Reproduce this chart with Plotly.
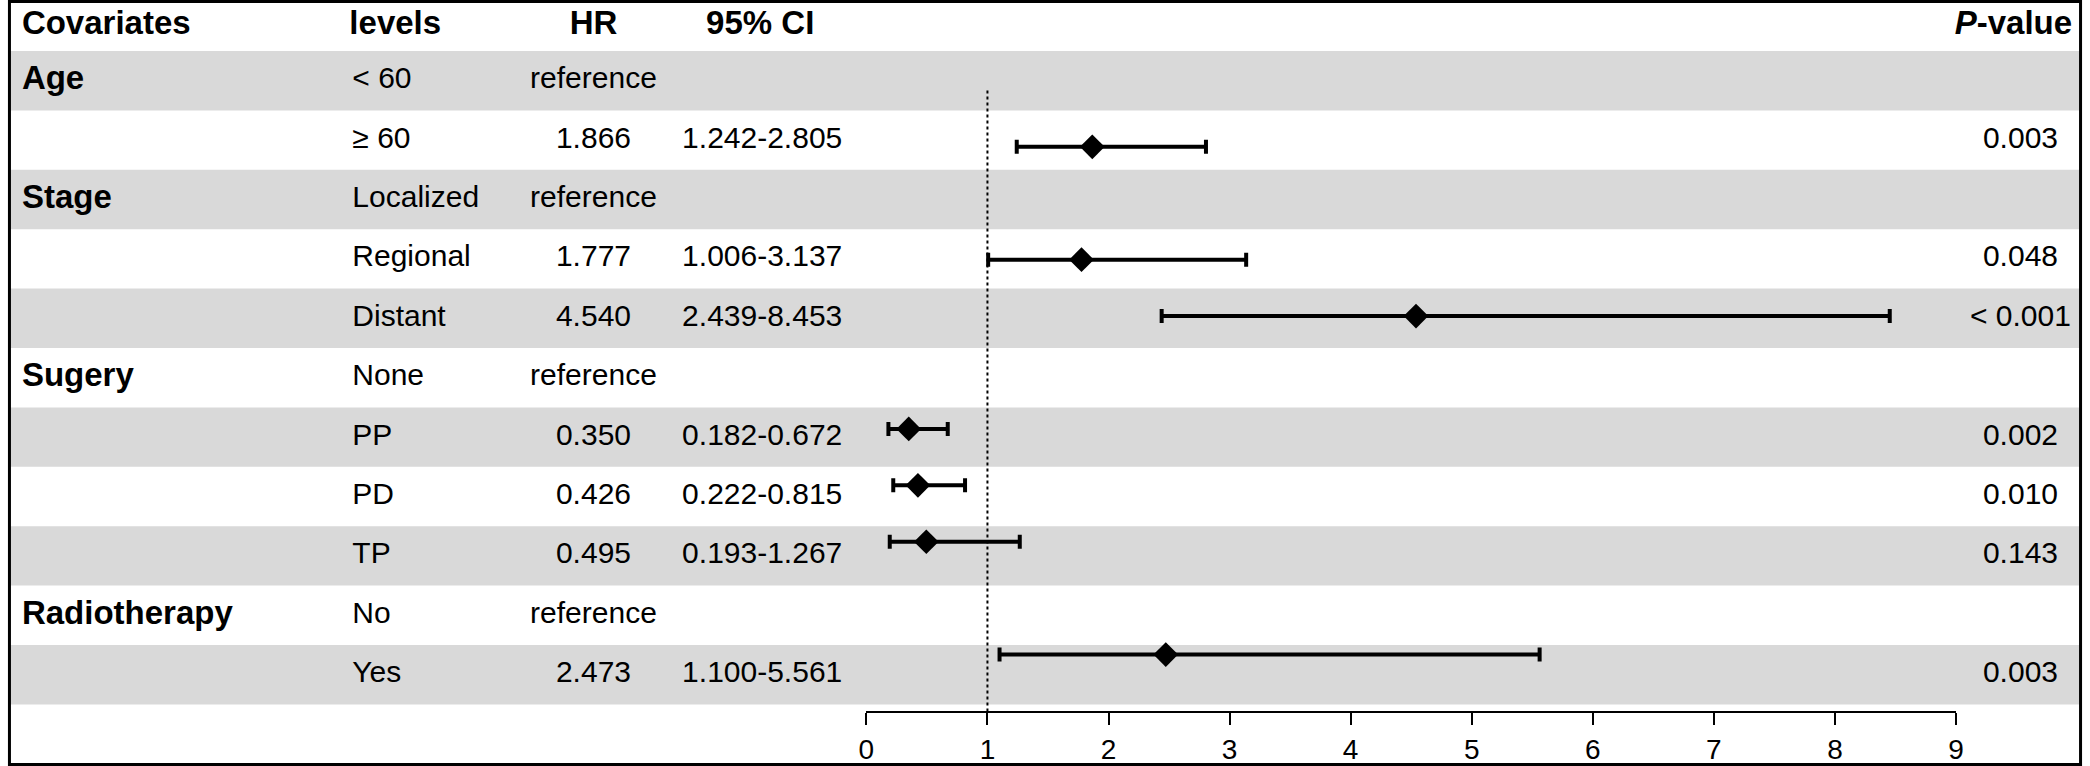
import plotly.graph_objects as go

# table rows (top to bottom)
covariates = ["Age", "", "Stage", "", "", "Sugery", "", "", "", "Radiotherapy", ""]
levels = ["< 60", "≥ 60", "Localized", "Regional", "Distant", "None", "PP", "PD", "TP", "No", "Yes"]
hr = [None, 1.866, None, 1.777, 4.540, None, 0.350, 0.426, 0.495, None, 2.473]
ci_low = [None, 1.242, None, 1.006, 2.439, None, 0.182, 0.222, 0.193, None, 1.100]
ci_high = [None, 2.805, None, 3.137, 8.453, None, 0.672, 0.815, 1.267, None, 5.561]
p_values = ["", "0.003", "", "0.048", "< 0.001", "", "0.002", "0.010", "0.143", "", "0.003"]
headers = ["Covariates", "levels", "HR", "95% CI", "<i>P</i>-value"]
x_ticks = [0, 1, 2, 3, 4, 5, 6, 7, 8, 9]
ref_hr = 1

W, H = 2090, 766
FONT = "Liberation Sans"
n = len(levels)
rows = list(range(n))

hr_text = ["reference" if v is None else f"{v:.3f}" for v in hr]
ci_text = ["" if lo is None else f"{lo:.3f}-{hi:.3f}" for lo, hi in zip(ci_low, ci_high)]

fig = go.Figure()

# ---- table texts (x2 / y2, pixel-like coordinates)
def add_col(x, text, pos, y=None, size=30):
    fig.add_trace(
        go.Scatter(
            x=[x] * len(text),
            y=rows if y is None else y,
            text=text,
            mode="text",
            textposition=pos,
            textfont=dict(family=FONT, size=size, color="black"),
            xaxis="x2",
            yaxis="y2",
            hoverinfo="skip",
        )
    )

add_col(14, ["<b>%s</b>" % c if c else "" for c in covariates], "middle right", size=33)
add_col(347, levels, "middle right")
add_col(590, hr_text, "middle center")
add_col(760, ci_text, "middle center")
add_col(2028, p_values, "middle center")

# header row
hx = [14, 344, 590, 758, 2080]
hpos = ["middle right", "middle right", "middle center", "middle center", "middle left"]
for x, t, p in zip(hx, headers, hpos):
    add_col(x, ["<b>%s</b>" % t], p, y=[-0.93], size=33)

# ---- forest plot (x / y)
fx = [v for v in hr if v is not None]
fy = [i for i, v in enumerate(hr) if v is not None]
lo = [v - l for v, l in zip(hr, ci_low) if v is not None]
hi = [h - v for v, h in zip(hr, ci_high) if v is not None]

fig.add_trace(
    go.Scatter(
        x=[ref_hr, ref_hr],
        y=[0, n],
        mode="lines",
        line=dict(color="black", width=2, dash="dot"),
        hoverinfo="skip",
    )
)
fig.add_trace(
    go.Scatter(
        x=fx,
        y=fy,
        mode="markers",
        marker=dict(symbol="diamond", size=19, color="black"),
        error_x=dict(type="data", symmetric=False, array=hi, arrayminus=lo,
                     color="black", thickness=4, width=7),
        cliponaxis=False,
    )
)

# alternating grey bands
shapes = []
for i in range(0, n, 2):
    shapes.append(dict(type="rect", xref="paper", yref="y2", x0=0, x1=1,
                       y0=i - 0.5, y1=i + 0.5, fillcolor="#D9D9D9",
                       line=dict(width=0), layer="below"))
shapes.append(dict(type="rect", xref="paper", yref="paper", x0=0.0007, x1=0.9993,
                   y0=0.002, y1=0.998, line=dict(color="black", width=3)))

x0_px, unit_px = 865, 122
axis_px = 711
fig.update_layout(
    width=W,
    height=H,
    margin=dict(l=0, r=0, t=0, b=0),
    paper_bgcolor="white",
    plot_bgcolor="rgba(0,0,0,0)",
    showlegend=False,
    shapes=shapes,
    font=dict(family=FONT, size=30, color="black"),
    xaxis=dict(
        domain=[x0_px / W, (x0_px + 9 * unit_px) / W],
        range=[0, 9],
        tickvals=x_ticks,
        showline=True,
        linecolor="black",
        linewidth=2,
        ticks="outside",
        ticklen=12,
        tickwidth=2,
        tickcolor="black",
        tickfont=dict(family=FONT, size=28, color="black"),
        ticklabelstandoff=0,
        showgrid=False,
        zeroline=False,
        anchor="y",
    ),
    yaxis=dict(
        domain=[1 - axis_px / H, 1],
        range=[n, -1.602],
        visible=False,
        anchor="x",
    ),
    xaxis2=dict(domain=[0, 1], range=[0, W], visible=False, anchor="y2"),
    yaxis2=dict(domain=[0, 1], range=[11.537, -1.359], visible=False, anchor="x2"),
)

fig.write_html(
    "out.html",
    config={"displayModeBar": False},
    post_script="document.body.style.margin='0';document.body.style.overflow='hidden';",
)
